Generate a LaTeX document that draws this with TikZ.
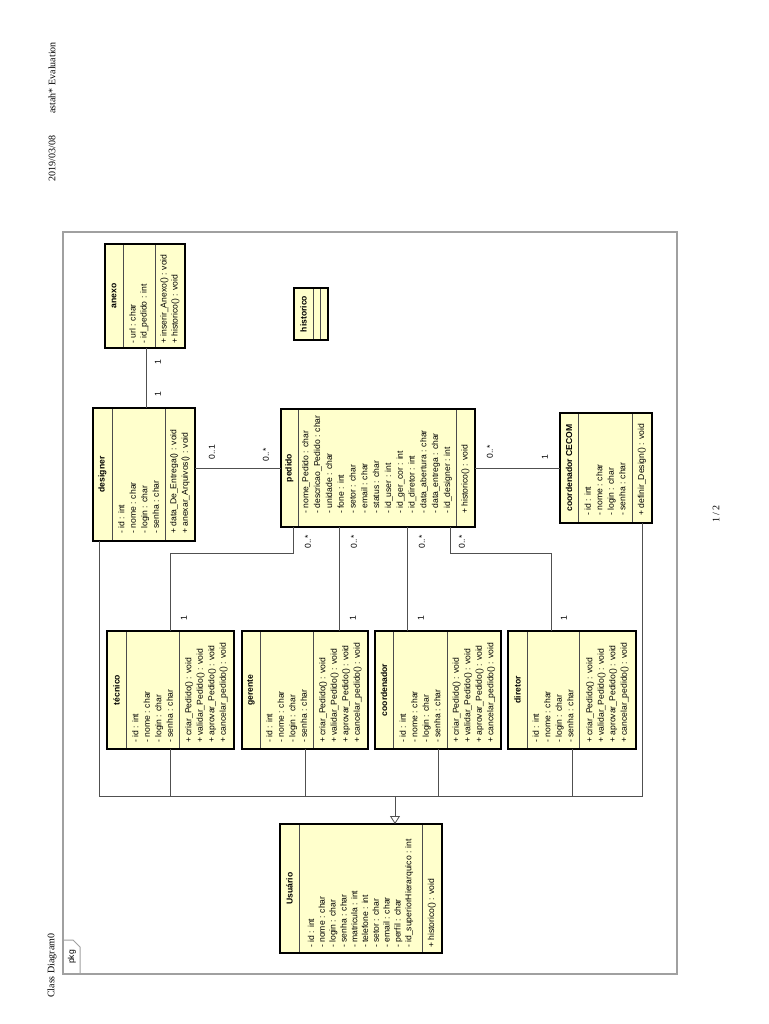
\documentclass[tikz,border=0pt]{standalone}
\usepackage{fontspec}
\setmainfont{Liberation Sans}
\newfontfamily\hdrfont{Liberation Serif}
\usetikzlibrary{arrows.meta}
\definecolor{classfill}{HTML}{FFFFCC}
\definecolor{conncol}{HTML}{505050}
\definecolor{framegray}{HTML}{A0A0A0}
\tikzset{
  classbox/.style={fill=classfill, draw=none, inner sep=0pt, outer sep=0pt},
  borderline/.style={draw=black, line width=1.1pt},
  divline/.style={draw=black!70, line width=0.7pt},
  ctitle/.style={rotate=90, inner sep=0pt, font=\fontsize{8.6}{10}\selectfont\bfseries},
  ctext/.style={rotate=90, anchor=west, align=left, inner sep=0pt, font=\fontsize{8.6}{#1}\selectfont},
  ctext/.default=11.5,
  mult/.style={rotate=90, inner sep=0pt, font=\fontsize{8.6}{10}\selectfont},
  connline/.style={draw=conncol, line width=0.8pt},
  hdr/.style={rotate=90, inner sep=0pt, font=\hdrfont\fontsize{10}{12}\selectfont},
  framestyle/.style={draw=framegray, line width=1.2pt},
}
% name, x0, y0, x1, y1, divider1, divider2, title
\newcommand{\umlbox}[8]{%
  \node[classbox, minimum width={(#4-#2)*1pt}, minimum height={(#5-#3)*1pt}] (#1) at ({(#2+#4)/2},{(#3+#5)/2}) {};
  \draw[divline] (#6,#3) -- (#6,#5);
  \draw[divline] (#7,#3) -- (#7,#5);
  \draw[borderline] (#1.north west) rectangle (#1.south east);
  \node[ctitle] (#1-name) at ({(#2+#6)/2},{(#3+#5)/2}) {#8};
}
\begin{document}
\begin{tikzpicture}[x=1pt,y=-1pt]
\useasboundingbox (0,0) rectangle (768,1024);
\fill[white] (0,0) rectangle (768,1024);

% page header / footer
\node[hdr, anchor=east] (date) at (52,42) {2019/03/08\hspace{2.2em}astah* Evaluation};
\node[hdr, anchor=west] (diagtitle) at (52,998) {Class Diagram0};
\node[hdr] (pagenum) at (716,514) {1 / 2};

% frame
\draw[framestyle] (63,232) rectangle (677,974);
\draw[framestyle, line width=1pt] (63,940) -- (73,940) -- (80,947) -- (80,974);
\node[mult] (pkg) at (72,957) {pkg};

% classes
\umlbox{anexo}{105}{244}{185}{348}{123}{155}{anexo}
\node[ctext=11] (anexo-attr) at (139,344) {- url : char\\- id\_pedido : int};
\node[ctext=11] (anexo-meth) at (170,344) {+ inserir\_Anexo() : void\\+ historico() : void};

\umlbox{historico}{294}{288}{328}{340}{313}{320}{historico}

\umlbox{designer}{93}{408}{195}{541}{112}{165}{designer}
\node[ctext] (designer-attr) at (138.5,534) {- id : int\\- nome : char\\- login : char\\- senha : char};
\node[ctext] (designer-meth) at (180,534) {+ data\_De\_Entrega() : void\\+ anexar\_Arquivos() : void};

\umlbox{pedido}{281}{409}{475}{527}{298}{456}{pedido}
\node[ctext=11.8] (pedido-attr) at (377,514) {- nome\_Pedido : char\\- descricao\_Pedido : char\\- unidade : char\\- fone : int\\- setor : char\\- email : char\\- status : char\\- id\_user : int\\- id\_ger\_cor : int\\- id\_diretor : int\\- data\_abertura : char\\- data\_entrega : char\\- id\_designer : int};
\node[ctext] (pedido-meth) at (465.5,514) {+ historico() : void};

\umlbox{cecom}{560}{413}{652}{523}{578}{632}{coordenador CECOM}
\node[ctext] (cecom-attr) at (605,516) {- id : int\\- nome : char\\- login : char\\- senha : char};
\node[ctext] (cecom-meth) at (642,516) {+ definir\_Design() : void};

\umlbox{tecnico}{107}{631}{234}{749}{126}{179}{técnico}
\node[ctext] (tecnico-attr) at (152.5,743) {- id : int\\- nome : char\\- login : char\\- senha : char};
\node[ctext] (tecnico-meth) at (206.5,743) {+ criar\_Pedido() : void\\+ validar\_Pedido() : void\\+ aprovar\_Pedido() : void\\+ cancelar\_pedido() : void};

\umlbox{gerente}{242}{631}{368}{749}{260}{313}{gerente}
\node[ctext] (gerente-attr) at (286.5,743) {- id : int\\- nome : char\\- login : char\\- senha : char};
\node[ctext] (gerente-meth) at (340.5,743) {+ criar\_Pedido() : void\\+ validar\_Pedido() : void\\+ aprovar\_Pedido() : void\\+ cancelar\_pedido() : void};

\umlbox{coordenador}{375}{631}{501}{749}{393}{447}{coordenador}
\node[ctext] (coordenador-attr) at (420,743) {- id : int\\- nome : char\\- login : char\\- senha : char};
\node[ctext] (coordenador-meth) at (474,743) {+ criar\_Pedido() : void\\+ validar\_Pedido() : void\\+ aprovar\_Pedido() : void\\+ cancelar\_pedido() : void};

\umlbox{diretor}{508}{631}{636}{749}{527}{579}{diretor}
\node[ctext] (diretor-attr) at (553,743) {- id : int\\- nome : char\\- login : char\\- senha : char};
\node[ctext] (diretor-meth) at (607.5,743) {+ criar\_Pedido() : void\\+ validar\_Pedido() : void\\+ aprovar\_Pedido() : void\\+ cancelar\_pedido() : void};

\umlbox{usuario}{280}{824}{442}{953}{299}{422}{Usuário}
\node[ctext=10.8] (usuario-attr) at (360.5,948) {- id : int\\- nome : char\\- login : char\\- senha : char\\- matricula : int\\- telefone : int\\- setor : char\\- email : char\\- perfil : char\\- id\_superiorHierarquico : int};
\node[ctext] (usuario-meth) at (432,948) {+ historico() : void};

% generalization tree
\coordinate (busL) at (99,796);
\coordinate (busR) at (642,796);
\coordinate (busM) at (395,796);
\draw[connline] (designer.south -| busL) -- (busL) -- (busR) -- (cecom.south -| busR);
\draw[connline] (tecnico.south) -- (tecnico.south |- busL);
\draw[connline] (gerente.south) -- (gerente.south |- busL);
\draw[connline] (coordenador.south) -- (coordenador.south |- busL);
\draw[connline] (diretor.south) -- (diretor.south |- busL);
\draw[connline, -{Triangle[open, length=8pt, width=10pt]}] (busM) -- (usuario.north -| busM);

% associations
\coordinate (cA) at (146,0);
\draw[connline] (anexo.south -| cA) -- (designer.north -| cA);
\coordinate (rowP) at (0,468);
\draw[connline] (designer.east |- rowP) -- (pedido.west |- rowP);
\draw[connline] (pedido.east |- rowP) -- (cecom.west |- rowP);
\coordinate (pT) at (293,553);
\draw[connline] (pedido.south -| pT) -- (pT) -| (tecnico.north);
\coordinate (cG) at (339,0);
\draw[connline] (pedido.south -| cG) -- (gerente.north -| cG);
\coordinate (cC) at (407,0);
\draw[connline] (pedido.south -| cC) -- (coordenador.north -| cC);
\coordinate (pD) at (450,553);
\coordinate (cD) at (551,0);
\draw[connline] (pedido.south -| pD) -- (pD) -| (diretor.north -| cD);

% multiplicities
\node[mult] (m1) at (158,362) {1};
\node[mult] (m2) at (158,394) {1};
\node[mult] (m3) at (212,452) {0..1};
\node[mult] (m4) at (266,455) {0..*};
\node[mult] (m5) at (490,452) {0..*};
\node[mult] (m6) at (545,457) {1};
\node[mult] (m7) at (308,542) {0..*};
\node[mult] (m8) at (184,618) {1};
\node[mult] (m9) at (354,542) {0..*};
\node[mult] (m10) at (353,618) {1};
\node[mult] (m11) at (422,542) {0..*};
\node[mult] (m12) at (421,618) {1};
\node[mult] (m13) at (462,542) {0..*};
\node[mult] (m14) at (564,618) {1};
\end{tikzpicture}
\end{document}
